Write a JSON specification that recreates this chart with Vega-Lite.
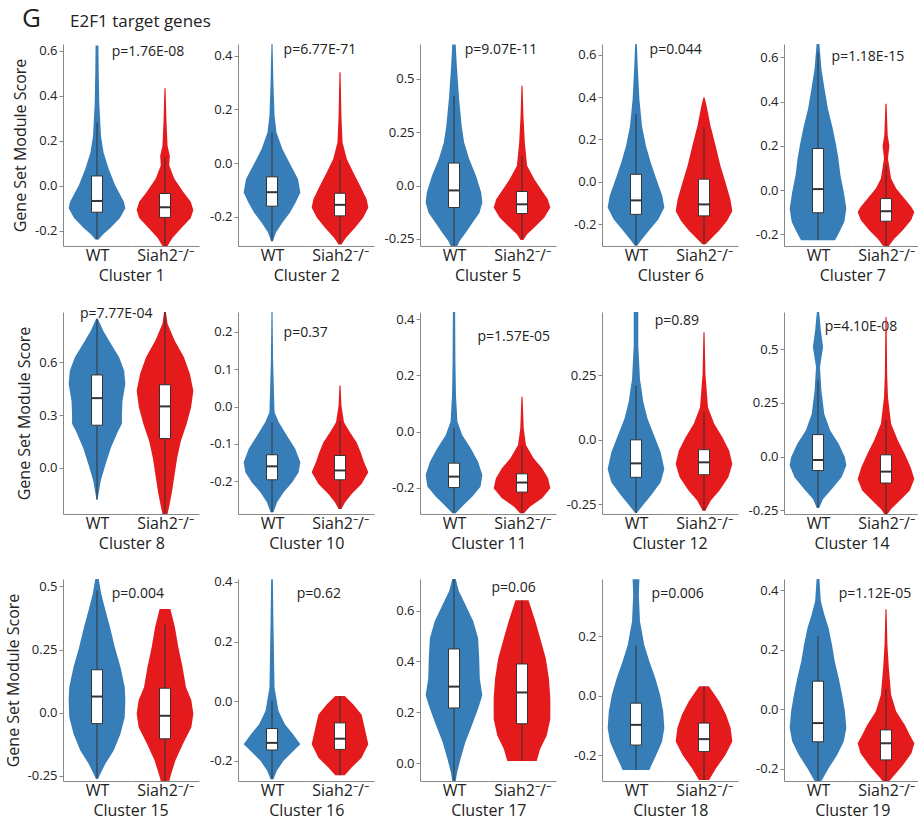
{
"$schema":"https://vega.github.io/schema/vega-lite/v6.json",
"title":{"text":"G","orient":"top","anchor":"start","frame":"bounds","fontSize":26,"fontWeight":"normal","font":"Open Sans","color":"#222","dx":17,"offset":-19},
"padding":{"left":5,"right":5,"top":6,"bottom":5},
"data":{"values":[
{"c":1,"g":"WT","v":0.623,"w":0.05},{"c":1,"g":"WT","v":0.514,"w":0.06},{"c":1,"g":"WT","v":0.368,"w":0.08},{"c":1,"g":"WT","v":0.222,"w":0.14},{"c":1,"g":"WT","v":0.149,"w":0.23},{"c":1,"g":"WT","v":0.076,"w":0.41},{"c":1,"g":"WT","v":0.003,"w":0.64},{"c":1,"g":"WT","v":-0.07,"w":0.95},{"c":1,"g":"WT","v":-0.099,"w":1},{"c":1,"g":"WT","v":-0.143,"w":0.81},{"c":1,"g":"WT","v":-0.187,"w":0.47},{"c":1,"g":"WT","v":-0.216,"w":0.21},{"c":1,"g":"WT","v":-0.238,"w":0.06},
{"c":1,"g":"Siah2","v":0.434,"w":0.02},{"c":1,"g":"Siah2","v":0.295,"w":0.05},{"c":1,"g":"Siah2","v":0.178,"w":0.09},{"c":1,"g":"Siah2","v":0.134,"w":0.17},{"c":1,"g":"Siah2","v":0.09,"w":0.15},{"c":1,"g":"Siah2","v":0.032,"w":0.33},{"c":1,"g":"Siah2","v":-0.026,"w":0.64},{"c":1,"g":"Siah2","v":-0.07,"w":0.91},{"c":1,"g":"Siah2","v":-0.107,"w":1},{"c":1,"g":"Siah2","v":-0.143,"w":0.91},{"c":1,"g":"Siah2","v":-0.187,"w":0.58},{"c":1,"g":"Siah2","v":-0.231,"w":0.26},{"c":1,"g":"Siah2","v":-0.267,"w":0.09},
{"c":2,"g":"WT","v":0.443,"w":0.02},{"c":2,"g":"WT","v":0.3,"w":0.05},{"c":2,"g":"WT","v":0.176,"w":0.09},{"c":2,"g":"WT","v":0.114,"w":0.16},{"c":2,"g":"WT","v":0.052,"w":0.37},{"c":2,"g":"WT","v":-0.01,"w":0.67},{"c":2,"g":"WT","v":-0.06,"w":0.92},{"c":2,"g":"WT","v":-0.109,"w":1},{"c":2,"g":"WT","v":-0.147,"w":0.83},{"c":2,"g":"WT","v":-0.184,"w":0.63},{"c":2,"g":"WT","v":-0.221,"w":0.37},{"c":2,"g":"WT","v":-0.258,"w":0.14},{"c":2,"g":"WT","v":-0.29,"w":0.03},
{"c":2,"g":"Siah2","v":0.338,"w":0.02},{"c":2,"g":"Siah2","v":0.176,"w":0.05},{"c":2,"g":"Siah2","v":0.077,"w":0.09},{"c":2,"g":"Siah2","v":0.015,"w":0.24},{"c":2,"g":"Siah2","v":-0.035,"w":0.47},{"c":2,"g":"Siah2","v":-0.084,"w":0.71},{"c":2,"g":"Siah2","v":-0.134,"w":0.94},{"c":2,"g":"Siah2","v":-0.165,"w":1},{"c":2,"g":"Siah2","v":-0.202,"w":0.82},{"c":2,"g":"Siah2","v":-0.24,"w":0.53},{"c":2,"g":"Siah2","v":-0.277,"w":0.21},{"c":2,"g":"Siah2","v":-0.302,"w":0.05},
{"c":5,"g":"WT","v":0.66,"w":0.06},{"c":5,"g":"WT","v":0.56,"w":0.1},{"c":5,"g":"WT","v":0.405,"w":0.18},{"c":5,"g":"WT","v":0.28,"w":0.27},{"c":5,"g":"WT","v":0.2,"w":0.36},{"c":5,"g":"WT","v":0.123,"w":0.54},{"c":5,"g":"WT","v":0.045,"w":0.78},{"c":5,"g":"WT","v":-0.033,"w":0.96},{"c":5,"g":"WT","v":-0.08,"w":1},{"c":5,"g":"WT","v":-0.127,"w":0.9},{"c":5,"g":"WT","v":-0.173,"w":0.66},{"c":5,"g":"WT","v":-0.22,"w":0.42},{"c":5,"g":"WT","v":-0.26,"w":0.2},{"c":5,"g":"WT","v":-0.283,"w":0.12},
{"c":5,"g":"Siah2","v":0.467,"w":0.02},{"c":5,"g":"Siah2","v":0.327,"w":0.05},{"c":5,"g":"Siah2","v":0.2,"w":0.1},{"c":5,"g":"Siah2","v":0.092,"w":0.18},{"c":5,"g":"Siah2","v":0.03,"w":0.43},{"c":5,"g":"Siah2","v":-0.017,"w":0.67},{"c":5,"g":"Siah2","v":-0.064,"w":0.91},{"c":5,"g":"Siah2","v":-0.103,"w":1},{"c":5,"g":"Siah2","v":-0.15,"w":0.79},{"c":5,"g":"Siah2","v":-0.19,"w":0.49},{"c":5,"g":"Siah2","v":-0.228,"w":0.18},{"c":5,"g":"Siah2","v":-0.255,"w":0.05},
{"c":6,"g":"WT","v":0.65,"w":0.03},{"c":6,"g":"WT","v":0.548,"w":0.06},{"c":6,"g":"WT","v":0.39,"w":0.12},{"c":6,"g":"WT","v":0.265,"w":0.21},{"c":6,"g":"WT","v":0.17,"w":0.35},{"c":6,"g":"WT","v":0.091,"w":0.52},{"c":6,"g":"WT","v":0.013,"w":0.72},{"c":6,"g":"WT","v":-0.066,"w":0.93},{"c":6,"g":"WT","v":-0.121,"w":1},{"c":6,"g":"WT","v":-0.176,"w":0.79},{"c":6,"g":"WT","v":-0.224,"w":0.49},{"c":6,"g":"WT","v":-0.27,"w":0.21},{"c":6,"g":"WT","v":-0.3,"w":0.05},
{"c":6,"g":"Siah2","v":0.398,"w":0.02},{"c":6,"g":"Siah2","v":0.36,"w":0.09},{"c":6,"g":"Siah2","v":0.265,"w":0.23},{"c":6,"g":"Siah2","v":0.17,"w":0.41},{"c":6,"g":"Siah2","v":0.076,"w":0.58},{"c":6,"g":"Siah2","v":-0.003,"w":0.76},{"c":6,"g":"Siah2","v":-0.082,"w":0.93},{"c":6,"g":"Siah2","v":-0.137,"w":1},{"c":6,"g":"Siah2","v":-0.184,"w":0.81},{"c":6,"g":"Siah2","v":-0.231,"w":0.52},{"c":6,"g":"Siah2","v":-0.27,"w":0.23},{"c":6,"g":"Siah2","v":-0.294,"w":0.06},
{"c":7,"g":"WT","v":0.66,"w":0.05},{"c":7,"g":"WT","v":0.548,"w":0.12},{"c":7,"g":"WT","v":0.458,"w":0.23},{"c":7,"g":"WT","v":0.368,"w":0.35},{"c":7,"g":"WT","v":0.278,"w":0.52},{"c":7,"g":"WT","v":0.203,"w":0.64},{"c":7,"g":"WT","v":0.143,"w":0.72},{"c":7,"g":"WT","v":0.068,"w":0.79},{"c":7,"g":"WT","v":-0.008,"w":0.91},{"c":7,"g":"WT","v":-0.083,"w":1},{"c":7,"g":"WT","v":-0.143,"w":0.93},{"c":7,"g":"WT","v":-0.188,"w":0.76},{"c":7,"g":"WT","v":-0.226,"w":0.6},
{"c":7,"g":"Siah2","v":0.39,"w":0.02},{"c":7,"g":"Siah2","v":0.248,"w":0.06},{"c":7,"g":"Siah2","v":0.2,"w":0.12},{"c":7,"g":"Siah2","v":0.143,"w":0.07},{"c":7,"g":"Siah2","v":0.053,"w":0.18},{"c":7,"g":"Siah2","v":0.008,"w":0.36},{"c":7,"g":"Siah2","v":-0.038,"w":0.65},{"c":7,"g":"Siah2","v":-0.075,"w":0.89},{"c":7,"g":"Siah2","v":-0.098,"w":1},{"c":7,"g":"Siah2","v":-0.135,"w":0.89},{"c":7,"g":"Siah2","v":-0.18,"w":0.6},{"c":7,"g":"Siah2","v":-0.218,"w":0.3},{"c":7,"g":"Siah2","v":-0.252,"w":0.1},
{"c":8,"g":"WT","v":0.848,"w":0.03},{"c":8,"g":"WT","v":0.78,"w":0.22},{"c":8,"g":"WT","v":0.705,"w":0.49},{"c":8,"g":"WT","v":0.629,"w":0.78},{"c":8,"g":"WT","v":0.552,"w":0.96},{"c":8,"g":"WT","v":0.476,"w":1},{"c":8,"g":"WT","v":0.381,"w":0.9},{"c":8,"g":"WT","v":0.3,"w":0.88},{"c":8,"g":"WT","v":0.25,"w":0.88},{"c":8,"g":"WT","v":0.21,"w":0.75},{"c":8,"g":"WT","v":0.114,"w":0.49},{"c":8,"g":"WT","v":0.019,"w":0.3},{"c":8,"g":"WT","v":-0.076,"w":0.13},{"c":8,"g":"WT","v":-0.152,"w":0.05},{"c":8,"g":"WT","v":-0.181,"w":0.02},
{"c":8,"g":"Siah2","v":0.886,"w":0.03},{"c":8,"g":"Siah2","v":0.819,"w":0.09},{"c":8,"g":"Siah2","v":0.724,"w":0.34},{"c":8,"g":"Siah2","v":0.629,"w":0.67},{"c":8,"g":"Siah2","v":0.533,"w":0.88},{"c":8,"g":"Siah2","v":0.438,"w":1},{"c":8,"g":"Siah2","v":0.343,"w":0.92},{"c":8,"g":"Siah2","v":0.248,"w":0.76},{"c":8,"g":"Siah2","v":0.152,"w":0.56},{"c":8,"g":"Siah2","v":0.057,"w":0.43},{"c":8,"g":"Siah2","v":-0.038,"w":0.34},{"c":8,"g":"Siah2","v":-0.133,"w":0.25},{"c":8,"g":"Siah2","v":-0.21,"w":0.16},{"c":8,"g":"Siah2","v":-0.263,"w":0.09},
{"c":10,"g":"WT","v":0.253,"w":0.02},{"c":10,"g":"WT","v":0.119,"w":0.04},{"c":10,"g":"WT","v":-0.015,"w":0.09},{"c":10,"g":"WT","v":-0.042,"w":0.24},{"c":10,"g":"WT","v":-0.078,"w":0.53},{"c":10,"g":"WT","v":-0.113,"w":0.82},{"c":10,"g":"WT","v":-0.149,"w":1},{"c":10,"g":"WT","v":-0.176,"w":0.94},{"c":10,"g":"WT","v":-0.203,"w":0.71},{"c":10,"g":"WT","v":-0.229,"w":0.41},{"c":10,"g":"WT","v":-0.256,"w":0.18},{"c":10,"g":"WT","v":-0.283,"w":0.05},
{"c":10,"g":"Siah2","v":0.056,"w":0.02},{"c":10,"g":"Siah2","v":0.003,"w":0.05},{"c":10,"g":"Siah2","v":-0.042,"w":0.14},{"c":10,"g":"Siah2","v":-0.069,"w":0.35},{"c":10,"g":"Siah2","v":-0.096,"w":0.59},{"c":10,"g":"Siah2","v":-0.122,"w":0.73},{"c":10,"g":"Siah2","v":-0.149,"w":0.85},{"c":10,"g":"Siah2","v":-0.176,"w":1},{"c":10,"g":"Siah2","v":-0.207,"w":0.76},{"c":10,"g":"Siah2","v":-0.234,"w":0.41},{"c":10,"g":"Siah2","v":-0.256,"w":0.18},{"c":10,"g":"Siah2","v":-0.274,"w":0.05},
{"c":11,"g":"WT","v":0.426,"w":0.04},{"c":11,"g":"WT","v":0.249,"w":0.05},{"c":11,"g":"WT","v":0.13,"w":0.07},{"c":11,"g":"WT","v":0.036,"w":0.12},{"c":11,"g":"WT","v":-0.012,"w":0.29},{"c":11,"g":"WT","v":-0.059,"w":0.59},{"c":11,"g":"WT","v":-0.107,"w":0.85},{"c":11,"g":"WT","v":-0.154,"w":1},{"c":11,"g":"WT","v":-0.195,"w":0.94},{"c":11,"g":"WT","v":-0.231,"w":0.65},{"c":11,"g":"WT","v":-0.26,"w":0.35},{"c":11,"g":"WT","v":-0.29,"w":0.06},
{"c":11,"g":"Siah2","v":0.124,"w":0.02},{"c":11,"g":"Siah2","v":0.012,"w":0.06},{"c":11,"g":"Siah2","v":-0.047,"w":0.14},{"c":11,"g":"Siah2","v":-0.095,"w":0.41},{"c":11,"g":"Siah2","v":-0.13,"w":0.71},{"c":11,"g":"Siah2","v":-0.166,"w":0.92},{"c":11,"g":"Siah2","v":-0.201,"w":1},{"c":11,"g":"Siah2","v":-0.237,"w":0.71},{"c":11,"g":"Siah2","v":-0.266,"w":0.29},{"c":11,"g":"Siah2","v":-0.29,"w":0.07},
{"c":12,"g":"WT","v":0.494,"w":0.08},{"c":12,"g":"WT","v":0.364,"w":0.08},{"c":12,"g":"WT","v":0.235,"w":0.14},{"c":12,"g":"WT","v":0.145,"w":0.26},{"c":12,"g":"WT","v":0.08,"w":0.41},{"c":12,"g":"WT","v":0.016,"w":0.64},{"c":12,"g":"WT","v":-0.049,"w":0.87},{"c":12,"g":"WT","v":-0.114,"w":1},{"c":12,"g":"WT","v":-0.165,"w":0.87},{"c":12,"g":"WT","v":-0.217,"w":0.52},{"c":12,"g":"WT","v":-0.256,"w":0.23},{"c":12,"g":"WT","v":-0.284,"w":0.03},
{"c":12,"g":"Siah2","v":0.416,"w":0.02},{"c":12,"g":"Siah2","v":0.255,"w":0.05},{"c":12,"g":"Siah2","v":0.125,"w":0.14},{"c":12,"g":"Siah2","v":0.061,"w":0.36},{"c":12,"g":"Siah2","v":0.009,"w":0.65},{"c":12,"g":"Siah2","v":-0.043,"w":0.89},{"c":12,"g":"Siah2","v":-0.094,"w":1},{"c":12,"g":"Siah2","v":-0.146,"w":0.86},{"c":12,"g":"Siah2","v":-0.198,"w":0.54},{"c":12,"g":"Siah2","v":-0.236,"w":0.24},{"c":12,"g":"Siah2","v":-0.275,"w":0.05},
{"c":14,"g":"WT","v":0.672,"w":0.04},{"c":14,"g":"WT","v":0.587,"w":0.1},{"c":14,"g":"WT","v":0.509,"w":0.18},{"c":14,"g":"WT","v":0.416,"w":0.07},{"c":14,"g":"WT","v":0.307,"w":0.12},{"c":14,"g":"WT","v":0.199,"w":0.22},{"c":14,"g":"WT","v":0.121,"w":0.43},{"c":14,"g":"WT","v":0.059,"w":0.73},{"c":14,"g":"WT","v":-0.003,"w":0.95},{"c":14,"g":"WT","v":-0.042,"w":1},{"c":14,"g":"WT","v":-0.096,"w":0.83},{"c":14,"g":"WT","v":-0.151,"w":0.49},{"c":14,"g":"WT","v":-0.197,"w":0.18},{"c":14,"g":"WT","v":-0.239,"w":0.04},
{"c":14,"g":"Siah2","v":0.649,"w":0.02},{"c":14,"g":"Siah2","v":0.385,"w":0.04},{"c":14,"g":"Siah2","v":0.276,"w":0.07},{"c":14,"g":"Siah2","v":0.152,"w":0.18},{"c":14,"g":"Siah2","v":0.075,"w":0.42},{"c":14,"g":"Siah2","v":0.012,"w":0.66},{"c":14,"g":"Siah2","v":-0.05,"w":0.87},{"c":14,"g":"Siah2","v":-0.104,"w":1},{"c":14,"g":"Siah2","v":-0.158,"w":0.84},{"c":14,"g":"Siah2","v":-0.205,"w":0.48},{"c":14,"g":"Siah2","v":-0.244,"w":0.18},{"c":14,"g":"Siah2","v":-0.267,"w":0.06},
{"c":15,"g":"WT","v":0.529,"w":0.06},{"c":15,"g":"WT","v":0.47,"w":0.15},{"c":15,"g":"WT","v":0.404,"w":0.3},{"c":15,"g":"WT","v":0.338,"w":0.46},{"c":15,"g":"WT","v":0.259,"w":0.63},{"c":15,"g":"WT","v":0.18,"w":0.83},{"c":15,"g":"WT","v":0.101,"w":0.98},{"c":15,"g":"WT","v":0.049,"w":1},{"c":15,"g":"WT","v":-0.017,"w":0.98},{"c":15,"g":"WT","v":-0.083,"w":0.83},{"c":15,"g":"WT","v":-0.149,"w":0.59},{"c":15,"g":"WT","v":-0.201,"w":0.3},{"c":15,"g":"WT","v":-0.241,"w":0.12},{"c":15,"g":"WT","v":-0.261,"w":0.04},
{"c":15,"g":"Siah2","v":0.41,"w":0.19},{"c":15,"g":"Siah2","v":0.338,"w":0.35},{"c":15,"g":"Siah2","v":0.259,"w":0.47},{"c":15,"g":"Siah2","v":0.18,"w":0.62},{"c":15,"g":"Siah2","v":0.101,"w":0.74},{"c":15,"g":"Siah2","v":0.049,"w":0.93},{"c":15,"g":"Siah2","v":-0.004,"w":1},{"c":15,"g":"Siah2","v":-0.057,"w":0.93},{"c":15,"g":"Siah2","v":-0.122,"w":0.64},{"c":15,"g":"Siah2","v":-0.188,"w":0.37},{"c":15,"g":"Siah2","v":-0.241,"w":0.22},{"c":15,"g":"Siah2","v":-0.27,"w":0.15},
{"c":16,"g":"WT","v":0.409,"w":0.03},{"c":16,"g":"WT","v":0.268,"w":0.05},{"c":16,"g":"WT","v":0.156,"w":0.07},{"c":16,"g":"WT","v":0.045,"w":0.09},{"c":16,"g":"WT","v":-0.033,"w":0.23},{"c":16,"g":"WT","v":-0.078,"w":0.46},{"c":16,"g":"WT","v":-0.112,"w":0.75},{"c":16,"g":"WT","v":-0.145,"w":1},{"c":16,"g":"WT","v":-0.173,"w":0.69},{"c":16,"g":"WT","v":-0.201,"w":0.4},{"c":16,"g":"WT","v":-0.234,"w":0.17},{"c":16,"g":"WT","v":-0.262,"w":0.05},
{"c":16,"g":"Siah2","v":0.017,"w":0.17},{"c":16,"g":"Siah2","v":-0.011,"w":0.47},{"c":16,"g":"Siah2","v":-0.045,"w":0.76},{"c":16,"g":"Siah2","v":-0.089,"w":0.87},{"c":16,"g":"Siah2","v":-0.145,"w":1},{"c":16,"g":"Siah2","v":-0.19,"w":0.76},{"c":16,"g":"Siah2","v":-0.223,"w":0.41},{"c":16,"g":"Siah2","v":-0.249,"w":0.17},
{"c":17,"g":"WT","v":0.724,"w":0.06},{"c":17,"g":"WT","v":0.677,"w":0.17},{"c":17,"g":"WT","v":0.624,"w":0.4},{"c":17,"g":"WT","v":0.558,"w":0.68},{"c":17,"g":"WT","v":0.492,"w":0.85},{"c":17,"g":"WT","v":0.412,"w":0.89},{"c":17,"g":"WT","v":0.333,"w":0.91},{"c":17,"g":"WT","v":0.267,"w":1},{"c":17,"g":"WT","v":0.214,"w":0.85},{"c":17,"g":"WT","v":0.148,"w":0.63},{"c":17,"g":"WT","v":0.082,"w":0.4},{"c":17,"g":"WT","v":0.016,"w":0.23},{"c":17,"g":"WT","v":-0.037,"w":0.11},{"c":17,"g":"WT","v":-0.07,"w":0.06},
{"c":17,"g":"Siah2","v":0.64,"w":0.23},{"c":17,"g":"Siah2","v":0.558,"w":0.47},{"c":17,"g":"Siah2","v":0.492,"w":0.64},{"c":17,"g":"Siah2","v":0.412,"w":0.84},{"c":17,"g":"Siah2","v":0.333,"w":0.95},{"c":17,"g":"Siah2","v":0.254,"w":1},{"c":17,"g":"Siah2","v":0.174,"w":1},{"c":17,"g":"Siah2","v":0.108,"w":0.87},{"c":17,"g":"Siah2","v":0.056,"w":0.64},{"c":17,"g":"Siah2","v":0.009,"w":0.52},
{"c":18,"g":"WT","v":0.392,"w":0.12},{"c":18,"g":"WT","v":0.341,"w":0.1},{"c":18,"g":"WT","v":0.251,"w":0.14},{"c":18,"g":"WT","v":0.172,"w":0.29},{"c":18,"g":"WT","v":0.116,"w":0.47},{"c":18,"g":"WT","v":0.06,"w":0.68},{"c":18,"g":"WT","v":0.003,"w":0.85},{"c":18,"g":"WT","v":-0.053,"w":0.96},{"c":18,"g":"WT","v":-0.109,"w":1},{"c":18,"g":"WT","v":-0.154,"w":0.92},{"c":18,"g":"WT","v":-0.2,"w":0.71},{"c":18,"g":"WT","v":-0.25,"w":0.47},
{"c":18,"g":"Siah2","v":0.032,"w":0.17},{"c":18,"g":"Siah2","v":-0.019,"w":0.54},{"c":18,"g":"Siah2","v":-0.064,"w":0.78},{"c":18,"g":"Siah2","v":-0.109,"w":0.94},{"c":18,"g":"Siah2","v":-0.154,"w":1},{"c":18,"g":"Siah2","v":-0.2,"w":0.75},{"c":18,"g":"Siah2","v":-0.245,"w":0.42},{"c":18,"g":"Siah2","v":-0.284,"w":0.18},
{"c":19,"g":"WT","v":0.438,"w":0.05},{"c":19,"g":"WT","v":0.364,"w":0.1},{"c":19,"g":"WT","v":0.319,"w":0.22},{"c":19,"g":"WT","v":0.274,"w":0.37},{"c":19,"g":"WT","v":0.218,"w":0.49},{"c":19,"g":"WT","v":0.161,"w":0.59},{"c":19,"g":"WT","v":0.105,"w":0.73},{"c":19,"g":"WT","v":0.048,"w":0.85},{"c":19,"g":"WT","v":-0.008,"w":0.95},{"c":19,"g":"WT","v":-0.064,"w":1},{"c":19,"g":"WT","v":-0.109,"w":0.91},{"c":19,"g":"WT","v":-0.155,"w":0.67},{"c":19,"g":"WT","v":-0.2,"w":0.37},{"c":19,"g":"WT","v":-0.242,"w":0.12},
{"c":19,"g":"Siah2","v":0.336,"w":0.02},{"c":19,"g":"Siah2","v":0.218,"w":0.05},{"c":19,"g":"Siah2","v":0.139,"w":0.1},{"c":19,"g":"Siah2","v":0.048,"w":0.18},{"c":19,"g":"Siah2","v":-0.008,"w":0.36},{"c":19,"g":"Siah2","v":-0.053,"w":0.66},{"c":19,"g":"Siah2","v":-0.087,"w":0.84},{"c":19,"g":"Siah2","v":-0.115,"w":1},{"c":19,"g":"Siah2","v":-0.149,"w":0.9},{"c":19,"g":"Siah2","v":-0.188,"w":0.6},{"c":19,"g":"Siah2","v":-0.222,"w":0.3},{"c":19,"g":"Siah2","v":-0.242,"w":0.12},
{"c":1,"g":"WT","lo":-0.238,"q1":-0.117,"md":-0.067,"q3":0.044,"hi":0.28,"p":"p=1.76E-08"},{"c":1,"g":"Siah2","lo":-0.267,"q1":-0.14,"md":-0.095,"q3":-0.034,"hi":0.127},
{"c":2,"g":"WT","lo":-0.29,"q1":-0.16,"md":-0.108,"q3":-0.051,"hi":0.114,"p":"p=6.77E-71"},{"c":2,"g":"Siah2","lo":-0.3,"q1":-0.196,"md":-0.155,"q3":-0.112,"hi":0.009},
{"c":5,"g":"WT","lo":-0.283,"q1":-0.103,"md":-0.023,"q3":0.105,"hi":0.42,"p":"p=9.07E-11"},{"c":5,"g":"Siah2","lo":-0.25,"q1":-0.131,"md":-0.088,"q3":-0.028,"hi":0.139},
{"c":6,"g":"WT","lo":-0.3,"q1":-0.153,"md":-0.087,"q3":0.036,"hi":0.32,"p":"p=0.044"},{"c":6,"g":"Siah2","lo":-0.294,"q1":-0.16,"md":-0.106,"q3":0.013,"hi":0.257},
{"c":7,"g":"WT","lo":-0.225,"q1":-0.102,"md":0.005,"q3":0.188,"hi":0.62,"p":"p=1.18E-15"},{"c":7,"g":"Siah2","lo":-0.252,"q1":-0.14,"md":-0.095,"q3":-0.038,"hi":0.113},
{"c":8,"g":"WT","lo":-0.181,"q1":0.242,"md":0.396,"q3":0.528,"hi":0.848,"p":"p=7.77E-04"},{"c":8,"g":"Siah2","lo":-0.263,"q1":0.166,"md":0.349,"q3":0.472,"hi":0.886},
{"c":10,"g":"WT","lo":-0.283,"q1":-0.196,"md":-0.16,"q3":-0.129,"hi":-0.042,"p":"p=0.37"},{"c":10,"g":"Siah2","lo":-0.274,"q1":-0.196,"md":-0.171,"q3":-0.131,"hi":-0.04},
{"c":11,"g":"WT","lo":-0.29,"q1":-0.199,"md":-0.16,"q3":-0.112,"hi":0.014,"p":"p=1.57E-05"},{"c":11,"g":"Siah2","lo":-0.29,"q1":-0.215,"md":-0.181,"q3":-0.15,"hi":-0.051},
{"c":12,"g":"WT","lo":-0.284,"q1":-0.146,"md":-0.092,"q3":-0.001,"hi":0.209,"p":"p=0.89"},{"c":12,"g":"Siah2","lo":-0.275,"q1":-0.136,"md":-0.088,"q3":-0.039,"hi":0.106},
{"c":14,"g":"WT","lo":-0.239,"q1":-0.065,"md":-0.016,"q3":0.102,"hi":0.354,"p":"p=4.10E-08"},{"c":14,"g":"Siah2","lo":-0.267,"q1":-0.123,"md":-0.07,"q3":0.008,"hi":0.17},
{"c":15,"g":"WT","lo":-0.261,"q1":-0.043,"md":0.064,"q3":0.17,"hi":0.483,"p":"p=0.004"},{"c":15,"g":"Siah2","lo":-0.27,"q1":-0.103,"md":-0.012,"q3":0.097,"hi":0.351},
{"c":16,"g":"WT","lo":-0.262,"q1":-0.164,"md":-0.14,"q3":-0.092,"hi":0.0,"p":"p=0.62"},{"c":16,"g":"Siah2","lo":-0.249,"q1":-0.162,"md":-0.126,"q3":-0.073,"hi":0.017},
{"c":17,"g":"WT","lo":-0.07,"q1":0.217,"md":0.301,"q3":0.449,"hi":0.724,"p":"p=0.06"},{"c":17,"g":"Siah2","lo":0.009,"q1":0.155,"md":0.278,"q3":0.39,"hi":0.64},
{"c":18,"g":"WT","lo":-0.25,"q1":-0.166,"md":-0.098,"q3":-0.025,"hi":0.17,"p":"p=0.006"},{"c":18,"g":"Siah2","lo":-0.284,"q1":-0.188,"md":-0.146,"q3":-0.092,"hi":0.032},
{"c":19,"g":"WT","lo":-0.242,"q1":-0.11,"md":-0.047,"q3":0.094,"hi":0.246,"p":"p=1.12E-05"},{"c":19,"g":"Siah2","lo":-0.242,"q1":-0.171,"md":-0.115,"q3":-0.07,"hi":0.069}
]},
"vconcat":[{
"title":{"text":"E2F1 target genes","orient":"top","anchor":"start","frame":"bounds","fontSize":17,"fontWeight":"normal","font":"Open Sans","color":"#222","dx":65,"offset":12},
"columns":5,
"align":"each",
"spacing":{"row":23,"column":10},
"concat":[
{"title":{"text":"Cluster 1","dx":26},"bounds":"flush","spacing":0,"hconcat":[
{"transform":[{"filter":"datum.c==1 && datum.g=='WT'"}],"width":68,"height":202,"resolve":{"scale":{"x":"independent"}},"layer":[
{"transform":[{"filter":"datum.w!=null"}],"mark":{"type":"area","orient":"horizontal","color":"#377eb8"},"encoding":{"y":{"field":"v","type":"quantitative","scale":{"domain":[-0.267,0.63],"nice":false},"axis":{"title":"Gene Set Module Score","values":[-0.2,0,0.2,0.4,0.6],"labelExpr":"datum.value == 0 ? '0.0' : replace(format(datum.value, '.2~f'), '\u2212', '-')"}},"x":{"field":"w","type":"quantitative","stack":null,"scale":{"domain":[-1.2,1.2]},"axis":{"title":"WT"}}}},
{"transform":[{"filter":"datum.w!=null"}],"mark":{"type":"area","orient":"horizontal","color":"#377eb8"},"encoding":{"y":{"field":"v","type":"quantitative"},"x":{"field":"w","type":"quantitative","stack":null,"scale":{"domain":[-1.2,1.2],"reverse":true},"axis":null}}},
{"transform":[{"filter":"datum.q1!=null"}],"mark":{"type":"rule","color":"#333"},"encoding":{"x":{"datum":0,"type":"quantitative","scale":{"domain":[-1.2,1.2]},"axis":null},"y":{"field":"lo","type":"quantitative"},"y2":{"field":"hi"}}},
{"transform":[{"filter":"datum.q1!=null"}],"mark":{"type":"bar","width":11,"fill":"white","stroke":"#333","strokeWidth":1,"opacity":1},"encoding":{"x":{"datum":0,"type":"quantitative","scale":{"domain":[-1.2,1.2]},"axis":null},"y":{"field":"q1","type":"quantitative"},"y2":{"field":"q3"}}},
{"transform":[{"filter":"datum.q1!=null"}],"mark":{"type":"rule","color":"#333","strokeWidth":2},"encoding":{"x":{"datum":-0.19,"type":"quantitative","scale":{"domain":[-1.2,1.2]},"axis":null},"x2":{"datum":0.19},"y":{"field":"md","type":"quantitative"}}},
{"transform":[{"filter":"datum.p!=null"}],"mark":{"type":"text","align":"left","baseline":"middle","fontSize":14,"color":"#222"},"encoding":{"x":{"datum":0.52,"type":"quantitative","scale":{"domain":[-1.2,1.2]},"axis":null},"y":{"datum":0.596,"type":"quantitative"},"text":{"field":"p"}}}]},
{"transform":[{"filter":"datum.c==1 && datum.g=='Siah2'"}],"width":68,"height":202,"resolve":{"scale":{"x":"independent"}},"layer":[
{"transform":[{"filter":"datum.w!=null"}],"mark":{"type":"area","orient":"horizontal","color":"#e41a1c"},"encoding":{"y":{"field":"v","type":"quantitative","scale":{"domain":[-0.267,0.63],"nice":false},"axis":null},"x":{"field":"w","type":"quantitative","stack":null,"scale":{"domain":[-1.2,1.2]},"axis":{"title":"Siah2\u207b/\u207b"}}}},
{"transform":[{"filter":"datum.w!=null"}],"mark":{"type":"area","orient":"horizontal","color":"#e41a1c"},"encoding":{"y":{"field":"v","type":"quantitative"},"x":{"field":"w","type":"quantitative","stack":null,"scale":{"domain":[-1.2,1.2],"reverse":true},"axis":null}}},
{"transform":[{"filter":"datum.q1!=null"}],"mark":{"type":"rule","color":"#333"},"encoding":{"x":{"datum":0,"type":"quantitative","scale":{"domain":[-1.2,1.2]},"axis":null},"y":{"field":"lo","type":"quantitative"},"y2":{"field":"hi"}}},
{"transform":[{"filter":"datum.q1!=null"}],"mark":{"type":"bar","width":11,"fill":"white","stroke":"#333","strokeWidth":1,"opacity":1},"encoding":{"x":{"datum":0,"type":"quantitative","scale":{"domain":[-1.2,1.2]},"axis":null},"y":{"field":"q1","type":"quantitative"},"y2":{"field":"q3"}}},
{"transform":[{"filter":"datum.q1!=null"}],"mark":{"type":"rule","color":"#333","strokeWidth":2},"encoding":{"x":{"datum":-0.19,"type":"quantitative","scale":{"domain":[-1.2,1.2]},"axis":null},"x2":{"datum":0.19},"y":{"field":"md","type":"quantitative"}}}]}
]},
{"title":{"text":"Cluster 2","dx":15},"bounds":"flush","spacing":0,"hconcat":[
{"transform":[{"filter":"datum.c==2 && datum.g=='WT'"}],"width":68,"height":202,"resolve":{"scale":{"x":"independent"}},"layer":[
{"transform":[{"filter":"datum.w!=null"}],"mark":{"type":"area","orient":"horizontal","color":"#377eb8"},"encoding":{"y":{"field":"v","type":"quantitative","scale":{"domain":[-0.308,0.443],"nice":false},"axis":{"title":null,"values":[-0.2,0,0.2,0.4],"labelExpr":"datum.value == 0 ? '0.0' : replace(format(datum.value, '.2~f'), '\u2212', '-')"}},"x":{"field":"w","type":"quantitative","stack":null,"scale":{"domain":[-1.2,1.2]},"axis":{"title":"WT"}}}},
{"transform":[{"filter":"datum.w!=null"}],"mark":{"type":"area","orient":"horizontal","color":"#377eb8"},"encoding":{"y":{"field":"v","type":"quantitative"},"x":{"field":"w","type":"quantitative","stack":null,"scale":{"domain":[-1.2,1.2],"reverse":true},"axis":null}}},
{"transform":[{"filter":"datum.q1!=null"}],"mark":{"type":"rule","color":"#333"},"encoding":{"x":{"datum":0,"type":"quantitative","scale":{"domain":[-1.2,1.2]},"axis":null},"y":{"field":"lo","type":"quantitative"},"y2":{"field":"hi"}}},
{"transform":[{"filter":"datum.q1!=null"}],"mark":{"type":"bar","width":11,"fill":"white","stroke":"#333","strokeWidth":1,"opacity":1},"encoding":{"x":{"datum":0,"type":"quantitative","scale":{"domain":[-1.2,1.2]},"axis":null},"y":{"field":"q1","type":"quantitative"},"y2":{"field":"q3"}}},
{"transform":[{"filter":"datum.q1!=null"}],"mark":{"type":"rule","color":"#333","strokeWidth":2},"encoding":{"x":{"datum":-0.19,"type":"quantitative","scale":{"domain":[-1.2,1.2]},"axis":null},"x2":{"datum":0.19},"y":{"field":"md","type":"quantitative"}}},
{"transform":[{"filter":"datum.p!=null"}],"mark":{"type":"text","align":"left","baseline":"middle","fontSize":14,"color":"#222"},"encoding":{"x":{"datum":0.41,"type":"quantitative","scale":{"domain":[-1.2,1.2]},"axis":null},"y":{"datum":0.42,"type":"quantitative"},"text":{"field":"p"}}}]},
{"transform":[{"filter":"datum.c==2 && datum.g=='Siah2'"}],"width":68,"height":202,"resolve":{"scale":{"x":"independent"}},"layer":[
{"transform":[{"filter":"datum.w!=null"}],"mark":{"type":"area","orient":"horizontal","color":"#e41a1c"},"encoding":{"y":{"field":"v","type":"quantitative","scale":{"domain":[-0.308,0.443],"nice":false},"axis":null},"x":{"field":"w","type":"quantitative","stack":null,"scale":{"domain":[-1.2,1.2]},"axis":{"title":"Siah2\u207b/\u207b"}}}},
{"transform":[{"filter":"datum.w!=null"}],"mark":{"type":"area","orient":"horizontal","color":"#e41a1c"},"encoding":{"y":{"field":"v","type":"quantitative"},"x":{"field":"w","type":"quantitative","stack":null,"scale":{"domain":[-1.2,1.2],"reverse":true},"axis":null}}},
{"transform":[{"filter":"datum.q1!=null"}],"mark":{"type":"rule","color":"#333"},"encoding":{"x":{"datum":0,"type":"quantitative","scale":{"domain":[-1.2,1.2]},"axis":null},"y":{"field":"lo","type":"quantitative"},"y2":{"field":"hi"}}},
{"transform":[{"filter":"datum.q1!=null"}],"mark":{"type":"bar","width":11,"fill":"white","stroke":"#333","strokeWidth":1,"opacity":1},"encoding":{"x":{"datum":0,"type":"quantitative","scale":{"domain":[-1.2,1.2]},"axis":null},"y":{"field":"q1","type":"quantitative"},"y2":{"field":"q3"}}},
{"transform":[{"filter":"datum.q1!=null"}],"mark":{"type":"rule","color":"#333","strokeWidth":2},"encoding":{"x":{"datum":-0.19,"type":"quantitative","scale":{"domain":[-1.2,1.2]},"axis":null},"x2":{"datum":0.19},"y":{"field":"md","type":"quantitative"}}}]}
]},
{"title":{"text":"Cluster 5","dx":18},"bounds":"flush","spacing":0,"hconcat":[
{"transform":[{"filter":"datum.c==5 && datum.g=='WT'"}],"width":68,"height":202,"resolve":{"scale":{"x":"independent"}},"layer":[
{"transform":[{"filter":"datum.w!=null"}],"mark":{"type":"area","orient":"horizontal","color":"#377eb8"},"encoding":{"y":{"field":"v","type":"quantitative","scale":{"domain":[-0.283,0.662],"nice":false},"axis":{"title":null,"values":[-0.25,0,0.25,0.5],"labelExpr":"datum.value == 0 ? '0.0' : replace(format(datum.value, '.2~f'), '\u2212', '-')"}},"x":{"field":"w","type":"quantitative","stack":null,"scale":{"domain":[-1.2,1.2]},"axis":{"title":"WT"}}}},
{"transform":[{"filter":"datum.w!=null"}],"mark":{"type":"area","orient":"horizontal","color":"#377eb8"},"encoding":{"y":{"field":"v","type":"quantitative"},"x":{"field":"w","type":"quantitative","stack":null,"scale":{"domain":[-1.2,1.2],"reverse":true},"axis":null}}},
{"transform":[{"filter":"datum.q1!=null"}],"mark":{"type":"rule","color":"#333"},"encoding":{"x":{"datum":0,"type":"quantitative","scale":{"domain":[-1.2,1.2]},"axis":null},"y":{"field":"lo","type":"quantitative"},"y2":{"field":"hi"}}},
{"transform":[{"filter":"datum.q1!=null"}],"mark":{"type":"bar","width":11,"fill":"white","stroke":"#333","strokeWidth":1,"opacity":1},"encoding":{"x":{"datum":0,"type":"quantitative","scale":{"domain":[-1.2,1.2]},"axis":null},"y":{"field":"q1","type":"quantitative"},"y2":{"field":"q3"}}},
{"transform":[{"filter":"datum.q1!=null"}],"mark":{"type":"rule","color":"#333","strokeWidth":2},"encoding":{"x":{"datum":-0.19,"type":"quantitative","scale":{"domain":[-1.2,1.2]},"axis":null},"x2":{"datum":0.19},"y":{"field":"md","type":"quantitative"}}},
{"transform":[{"filter":"datum.p!=null"}],"mark":{"type":"text","align":"left","baseline":"middle","fontSize":14,"color":"#222"},"encoding":{"x":{"datum":0.38,"type":"quantitative","scale":{"domain":[-1.2,1.2]},"axis":null},"y":{"datum":0.633,"type":"quantitative"},"text":{"field":"p"}}}]},
{"transform":[{"filter":"datum.c==5 && datum.g=='Siah2'"}],"width":68,"height":202,"resolve":{"scale":{"x":"independent"}},"layer":[
{"transform":[{"filter":"datum.w!=null"}],"mark":{"type":"area","orient":"horizontal","color":"#e41a1c"},"encoding":{"y":{"field":"v","type":"quantitative","scale":{"domain":[-0.283,0.662],"nice":false},"axis":null},"x":{"field":"w","type":"quantitative","stack":null,"scale":{"domain":[-1.2,1.2]},"axis":{"title":"Siah2\u207b/\u207b"}}}},
{"transform":[{"filter":"datum.w!=null"}],"mark":{"type":"area","orient":"horizontal","color":"#e41a1c"},"encoding":{"y":{"field":"v","type":"quantitative"},"x":{"field":"w","type":"quantitative","stack":null,"scale":{"domain":[-1.2,1.2],"reverse":true},"axis":null}}},
{"transform":[{"filter":"datum.q1!=null"}],"mark":{"type":"rule","color":"#333"},"encoding":{"x":{"datum":0,"type":"quantitative","scale":{"domain":[-1.2,1.2]},"axis":null},"y":{"field":"lo","type":"quantitative"},"y2":{"field":"hi"}}},
{"transform":[{"filter":"datum.q1!=null"}],"mark":{"type":"bar","width":11,"fill":"white","stroke":"#333","strokeWidth":1,"opacity":1},"encoding":{"x":{"datum":0,"type":"quantitative","scale":{"domain":[-1.2,1.2]},"axis":null},"y":{"field":"q1","type":"quantitative"},"y2":{"field":"q3"}}},
{"transform":[{"filter":"datum.q1!=null"}],"mark":{"type":"rule","color":"#333","strokeWidth":2},"encoding":{"x":{"datum":-0.19,"type":"quantitative","scale":{"domain":[-1.2,1.2]},"axis":null},"x2":{"datum":0.19},"y":{"field":"md","type":"quantitative"}}}]}
]},
{"title":{"text":"Cluster 6","dx":15},"bounds":"flush","spacing":0,"hconcat":[
{"transform":[{"filter":"datum.c==6 && datum.g=='WT'"}],"width":68,"height":202,"resolve":{"scale":{"x":"independent"}},"layer":[
{"transform":[{"filter":"datum.w!=null"}],"mark":{"type":"area","orient":"horizontal","color":"#377eb8"},"encoding":{"y":{"field":"v","type":"quantitative","scale":{"domain":[-0.302,0.65],"nice":false},"axis":{"title":null,"values":[-0.2,0,0.2,0.4,0.6],"labelExpr":"datum.value == 0 ? '0.0' : replace(format(datum.value, '.2~f'), '\u2212', '-')"}},"x":{"field":"w","type":"quantitative","stack":null,"scale":{"domain":[-1.2,1.2]},"axis":{"title":"WT"}}}},
{"transform":[{"filter":"datum.w!=null"}],"mark":{"type":"area","orient":"horizontal","color":"#377eb8"},"encoding":{"y":{"field":"v","type":"quantitative"},"x":{"field":"w","type":"quantitative","stack":null,"scale":{"domain":[-1.2,1.2],"reverse":true},"axis":null}}},
{"transform":[{"filter":"datum.q1!=null"}],"mark":{"type":"rule","color":"#333"},"encoding":{"x":{"datum":0,"type":"quantitative","scale":{"domain":[-1.2,1.2]},"axis":null},"y":{"field":"lo","type":"quantitative"},"y2":{"field":"hi"}}},
{"transform":[{"filter":"datum.q1!=null"}],"mark":{"type":"bar","width":11,"fill":"white","stroke":"#333","strokeWidth":1,"opacity":1},"encoding":{"x":{"datum":0,"type":"quantitative","scale":{"domain":[-1.2,1.2]},"axis":null},"y":{"field":"q1","type":"quantitative"},"y2":{"field":"q3"}}},
{"transform":[{"filter":"datum.q1!=null"}],"mark":{"type":"rule","color":"#333","strokeWidth":2},"encoding":{"x":{"datum":-0.19,"type":"quantitative","scale":{"domain":[-1.2,1.2]},"axis":null},"x2":{"datum":0.19},"y":{"field":"md","type":"quantitative"}}},
{"transform":[{"filter":"datum.p!=null"}],"mark":{"type":"text","align":"left","baseline":"middle","fontSize":14,"color":"#222"},"encoding":{"x":{"datum":0.48,"type":"quantitative","scale":{"domain":[-1.2,1.2]},"axis":null},"y":{"datum":0.62,"type":"quantitative"},"text":{"field":"p"}}}]},
{"transform":[{"filter":"datum.c==6 && datum.g=='Siah2'"}],"width":68,"height":202,"resolve":{"scale":{"x":"independent"}},"layer":[
{"transform":[{"filter":"datum.w!=null"}],"mark":{"type":"area","orient":"horizontal","color":"#e41a1c"},"encoding":{"y":{"field":"v","type":"quantitative","scale":{"domain":[-0.302,0.65],"nice":false},"axis":null},"x":{"field":"w","type":"quantitative","stack":null,"scale":{"domain":[-1.2,1.2]},"axis":{"title":"Siah2\u207b/\u207b"}}}},
{"transform":[{"filter":"datum.w!=null"}],"mark":{"type":"area","orient":"horizontal","color":"#e41a1c"},"encoding":{"y":{"field":"v","type":"quantitative"},"x":{"field":"w","type":"quantitative","stack":null,"scale":{"domain":[-1.2,1.2],"reverse":true},"axis":null}}},
{"transform":[{"filter":"datum.q1!=null"}],"mark":{"type":"rule","color":"#333"},"encoding":{"x":{"datum":0,"type":"quantitative","scale":{"domain":[-1.2,1.2]},"axis":null},"y":{"field":"lo","type":"quantitative"},"y2":{"field":"hi"}}},
{"transform":[{"filter":"datum.q1!=null"}],"mark":{"type":"bar","width":11,"fill":"white","stroke":"#333","strokeWidth":1,"opacity":1},"encoding":{"x":{"datum":0,"type":"quantitative","scale":{"domain":[-1.2,1.2]},"axis":null},"y":{"field":"q1","type":"quantitative"},"y2":{"field":"q3"}}},
{"transform":[{"filter":"datum.q1!=null"}],"mark":{"type":"rule","color":"#333","strokeWidth":2},"encoding":{"x":{"datum":-0.19,"type":"quantitative","scale":{"domain":[-1.2,1.2]},"axis":null},"x2":{"datum":0.19},"y":{"field":"md","type":"quantitative"}}}]}
]},
{"title":{"text":"Cluster 7","dx":15},"bounds":"flush","spacing":0,"hconcat":[
{"transform":[{"filter":"datum.c==7 && datum.g=='WT'"}],"width":68,"height":202,"resolve":{"scale":{"x":"independent"}},"layer":[
{"transform":[{"filter":"datum.w!=null"}],"mark":{"type":"area","orient":"horizontal","color":"#377eb8"},"encoding":{"y":{"field":"v","type":"quantitative","scale":{"domain":[-0.252,0.66],"nice":false},"axis":{"title":null,"values":[-0.2,0,0.2,0.4,0.6],"labelExpr":"datum.value == 0 ? '0.0' : replace(format(datum.value, '.2~f'), '\u2212', '-')"}},"x":{"field":"w","type":"quantitative","stack":null,"scale":{"domain":[-1.2,1.2]},"axis":{"title":"WT"}}}},
{"transform":[{"filter":"datum.w!=null"}],"mark":{"type":"area","orient":"horizontal","color":"#377eb8"},"encoding":{"y":{"field":"v","type":"quantitative"},"x":{"field":"w","type":"quantitative","stack":null,"scale":{"domain":[-1.2,1.2],"reverse":true},"axis":null}}},
{"transform":[{"filter":"datum.q1!=null"}],"mark":{"type":"rule","color":"#333"},"encoding":{"x":{"datum":0,"type":"quantitative","scale":{"domain":[-1.2,1.2]},"axis":null},"y":{"field":"lo","type":"quantitative"},"y2":{"field":"hi"}}},
{"transform":[{"filter":"datum.q1!=null"}],"mark":{"type":"bar","width":11,"fill":"white","stroke":"#333","strokeWidth":1,"opacity":1},"encoding":{"x":{"datum":0,"type":"quantitative","scale":{"domain":[-1.2,1.2]},"axis":null},"y":{"field":"q1","type":"quantitative"},"y2":{"field":"q3"}}},
{"transform":[{"filter":"datum.q1!=null"}],"mark":{"type":"rule","color":"#333","strokeWidth":2},"encoding":{"x":{"datum":-0.19,"type":"quantitative","scale":{"domain":[-1.2,1.2]},"axis":null},"x2":{"datum":0.19},"y":{"field":"md","type":"quantitative"}}},
{"transform":[{"filter":"datum.p!=null"}],"mark":{"type":"text","align":"left","baseline":"middle","fontSize":14,"color":"#222"},"encoding":{"x":{"datum":0.48,"type":"quantitative","scale":{"domain":[-1.2,1.2]},"axis":null},"y":{"datum":0.6,"type":"quantitative"},"text":{"field":"p"}}}]},
{"transform":[{"filter":"datum.c==7 && datum.g=='Siah2'"}],"width":68,"height":202,"resolve":{"scale":{"x":"independent"}},"layer":[
{"transform":[{"filter":"datum.w!=null"}],"mark":{"type":"area","orient":"horizontal","color":"#e41a1c"},"encoding":{"y":{"field":"v","type":"quantitative","scale":{"domain":[-0.252,0.66],"nice":false},"axis":null},"x":{"field":"w","type":"quantitative","stack":null,"scale":{"domain":[-1.2,1.2]},"axis":{"title":"Siah2\u207b/\u207b"}}}},
{"transform":[{"filter":"datum.w!=null"}],"mark":{"type":"area","orient":"horizontal","color":"#e41a1c"},"encoding":{"y":{"field":"v","type":"quantitative"},"x":{"field":"w","type":"quantitative","stack":null,"scale":{"domain":[-1.2,1.2],"reverse":true},"axis":null}}},
{"transform":[{"filter":"datum.q1!=null"}],"mark":{"type":"rule","color":"#333"},"encoding":{"x":{"datum":0,"type":"quantitative","scale":{"domain":[-1.2,1.2]},"axis":null},"y":{"field":"lo","type":"quantitative"},"y2":{"field":"hi"}}},
{"transform":[{"filter":"datum.q1!=null"}],"mark":{"type":"bar","width":11,"fill":"white","stroke":"#333","strokeWidth":1,"opacity":1},"encoding":{"x":{"datum":0,"type":"quantitative","scale":{"domain":[-1.2,1.2]},"axis":null},"y":{"field":"q1","type":"quantitative"},"y2":{"field":"q3"}}},
{"transform":[{"filter":"datum.q1!=null"}],"mark":{"type":"rule","color":"#333","strokeWidth":2},"encoding":{"x":{"datum":-0.19,"type":"quantitative","scale":{"domain":[-1.2,1.2]},"axis":null},"x2":{"datum":0.19},"y":{"field":"md","type":"quantitative"}}}]}
]},
{"title":{"text":"Cluster 8","dx":24},"bounds":"flush","spacing":0,"hconcat":[
{"transform":[{"filter":"datum.c==8 && datum.g=='WT'"}],"width":68,"height":202,"resolve":{"scale":{"x":"independent"}},"layer":[
{"transform":[{"filter":"datum.w!=null"}],"mark":{"type":"area","orient":"horizontal","color":"#377eb8"},"encoding":{"y":{"field":"v","type":"quantitative","scale":{"domain":[-0.263,0.886],"nice":false},"axis":{"title":"Gene Set Module Score","values":[0,0.3,0.6],"labelExpr":"datum.value == 0 ? '0.0' : replace(format(datum.value, '.2~f'), '\u2212', '-')"}},"x":{"field":"w","type":"quantitative","stack":null,"scale":{"domain":[-1.2,1.2]},"axis":{"title":"WT"}}}},
{"transform":[{"filter":"datum.w!=null"}],"mark":{"type":"area","orient":"horizontal","color":"#377eb8"},"encoding":{"y":{"field":"v","type":"quantitative"},"x":{"field":"w","type":"quantitative","stack":null,"scale":{"domain":[-1.2,1.2],"reverse":true},"axis":null}}},
{"transform":[{"filter":"datum.q1!=null"}],"mark":{"type":"rule","color":"#333"},"encoding":{"x":{"datum":0,"type":"quantitative","scale":{"domain":[-1.2,1.2]},"axis":null},"y":{"field":"lo","type":"quantitative"},"y2":{"field":"hi"}}},
{"transform":[{"filter":"datum.q1!=null"}],"mark":{"type":"bar","width":11,"fill":"white","stroke":"#333","strokeWidth":1,"opacity":1},"encoding":{"x":{"datum":0,"type":"quantitative","scale":{"domain":[-1.2,1.2]},"axis":null},"y":{"field":"q1","type":"quantitative"},"y2":{"field":"q3"}}},
{"transform":[{"filter":"datum.q1!=null"}],"mark":{"type":"rule","color":"#333","strokeWidth":2},"encoding":{"x":{"datum":-0.19,"type":"quantitative","scale":{"domain":[-1.2,1.2]},"axis":null},"x2":{"datum":0.19},"y":{"field":"md","type":"quantitative"}}},
{"transform":[{"filter":"datum.p!=null"}],"mark":{"type":"text","align":"left","baseline":"middle","fontSize":14,"color":"#222"},"encoding":{"x":{"datum":-0.6,"type":"quantitative","scale":{"domain":[-1.2,1.2]},"axis":null},"y":{"datum":0.872,"type":"quantitative"},"text":{"field":"p"}}}]},
{"transform":[{"filter":"datum.c==8 && datum.g=='Siah2'"}],"width":68,"height":202,"resolve":{"scale":{"x":"independent"}},"layer":[
{"transform":[{"filter":"datum.w!=null"}],"mark":{"type":"area","orient":"horizontal","color":"#e41a1c"},"encoding":{"y":{"field":"v","type":"quantitative","scale":{"domain":[-0.263,0.886],"nice":false},"axis":null},"x":{"field":"w","type":"quantitative","stack":null,"scale":{"domain":[-1.2,1.2]},"axis":{"title":"Siah2\u207b/\u207b"}}}},
{"transform":[{"filter":"datum.w!=null"}],"mark":{"type":"area","orient":"horizontal","color":"#e41a1c"},"encoding":{"y":{"field":"v","type":"quantitative"},"x":{"field":"w","type":"quantitative","stack":null,"scale":{"domain":[-1.2,1.2],"reverse":true},"axis":null}}},
{"transform":[{"filter":"datum.q1!=null"}],"mark":{"type":"rule","color":"#333"},"encoding":{"x":{"datum":0,"type":"quantitative","scale":{"domain":[-1.2,1.2]},"axis":null},"y":{"field":"lo","type":"quantitative"},"y2":{"field":"hi"}}},
{"transform":[{"filter":"datum.q1!=null"}],"mark":{"type":"bar","width":11,"fill":"white","stroke":"#333","strokeWidth":1,"opacity":1},"encoding":{"x":{"datum":0,"type":"quantitative","scale":{"domain":[-1.2,1.2]},"axis":null},"y":{"field":"q1","type":"quantitative"},"y2":{"field":"q3"}}},
{"transform":[{"filter":"datum.q1!=null"}],"mark":{"type":"rule","color":"#333","strokeWidth":2},"encoding":{"x":{"datum":-0.19,"type":"quantitative","scale":{"domain":[-1.2,1.2]},"axis":null},"x2":{"datum":0.19},"y":{"field":"md","type":"quantitative"}}}]}
]},
{"title":{"text":"Cluster 10","dx":15},"bounds":"flush","spacing":0,"hconcat":[
{"transform":[{"filter":"datum.c==10 && datum.g=='WT'"}],"width":68,"height":202,"resolve":{"scale":{"x":"independent"}},"layer":[
{"transform":[{"filter":"datum.w!=null"}],"mark":{"type":"area","orient":"horizontal","color":"#377eb8"},"encoding":{"y":{"field":"v","type":"quantitative","scale":{"domain":[-0.2875,0.253],"nice":false},"axis":{"title":null,"values":[-0.2,-0.1,0,0.1,0.2],"labelExpr":"datum.value == 0 ? '0.0' : replace(format(datum.value, '.2~f'), '\u2212', '-')"}},"x":{"field":"w","type":"quantitative","stack":null,"scale":{"domain":[-1.2,1.2]},"axis":{"title":"WT"}}}},
{"transform":[{"filter":"datum.w!=null"}],"mark":{"type":"area","orient":"horizontal","color":"#377eb8"},"encoding":{"y":{"field":"v","type":"quantitative"},"x":{"field":"w","type":"quantitative","stack":null,"scale":{"domain":[-1.2,1.2],"reverse":true},"axis":null}}},
{"transform":[{"filter":"datum.q1!=null"}],"mark":{"type":"rule","color":"#333"},"encoding":{"x":{"datum":0,"type":"quantitative","scale":{"domain":[-1.2,1.2]},"axis":null},"y":{"field":"lo","type":"quantitative"},"y2":{"field":"hi"}}},
{"transform":[{"filter":"datum.q1!=null"}],"mark":{"type":"bar","width":11,"fill":"white","stroke":"#333","strokeWidth":1,"opacity":1},"encoding":{"x":{"datum":0,"type":"quantitative","scale":{"domain":[-1.2,1.2]},"axis":null},"y":{"field":"q1","type":"quantitative"},"y2":{"field":"q3"}}},
{"transform":[{"filter":"datum.q1!=null"}],"mark":{"type":"rule","color":"#333","strokeWidth":2},"encoding":{"x":{"datum":-0.19,"type":"quantitative","scale":{"domain":[-1.2,1.2]},"axis":null},"x2":{"datum":0.19},"y":{"field":"md","type":"quantitative"}}},
{"transform":[{"filter":"datum.p!=null"}],"mark":{"type":"text","align":"left","baseline":"middle","fontSize":14,"color":"#222"},"encoding":{"x":{"datum":0.41,"type":"quantitative","scale":{"domain":[-1.2,1.2]},"axis":null},"y":{"datum":0.196,"type":"quantitative"},"text":{"field":"p"}}}]},
{"transform":[{"filter":"datum.c==10 && datum.g=='Siah2'"}],"width":68,"height":202,"resolve":{"scale":{"x":"independent"}},"layer":[
{"transform":[{"filter":"datum.w!=null"}],"mark":{"type":"area","orient":"horizontal","color":"#e41a1c"},"encoding":{"y":{"field":"v","type":"quantitative","scale":{"domain":[-0.2875,0.253],"nice":false},"axis":null},"x":{"field":"w","type":"quantitative","stack":null,"scale":{"domain":[-1.2,1.2]},"axis":{"title":"Siah2\u207b/\u207b"}}}},
{"transform":[{"filter":"datum.w!=null"}],"mark":{"type":"area","orient":"horizontal","color":"#e41a1c"},"encoding":{"y":{"field":"v","type":"quantitative"},"x":{"field":"w","type":"quantitative","stack":null,"scale":{"domain":[-1.2,1.2],"reverse":true},"axis":null}}},
{"transform":[{"filter":"datum.q1!=null"}],"mark":{"type":"rule","color":"#333"},"encoding":{"x":{"datum":0,"type":"quantitative","scale":{"domain":[-1.2,1.2]},"axis":null},"y":{"field":"lo","type":"quantitative"},"y2":{"field":"hi"}}},
{"transform":[{"filter":"datum.q1!=null"}],"mark":{"type":"bar","width":11,"fill":"white","stroke":"#333","strokeWidth":1,"opacity":1},"encoding":{"x":{"datum":0,"type":"quantitative","scale":{"domain":[-1.2,1.2]},"axis":null},"y":{"field":"q1","type":"quantitative"},"y2":{"field":"q3"}}},
{"transform":[{"filter":"datum.q1!=null"}],"mark":{"type":"rule","color":"#333","strokeWidth":2},"encoding":{"x":{"datum":-0.19,"type":"quantitative","scale":{"domain":[-1.2,1.2]},"axis":null},"x2":{"datum":0.19},"y":{"field":"md","type":"quantitative"}}}]}
]},
{"title":{"text":"Cluster 11","dx":15},"bounds":"flush","spacing":0,"hconcat":[
{"transform":[{"filter":"datum.c==11 && datum.g=='WT'"}],"width":68,"height":202,"resolve":{"scale":{"x":"independent"}},"layer":[
{"transform":[{"filter":"datum.w!=null"}],"mark":{"type":"area","orient":"horizontal","color":"#377eb8"},"encoding":{"y":{"field":"v","type":"quantitative","scale":{"domain":[-0.293,0.426],"nice":false},"axis":{"title":null,"values":[-0.2,0,0.2,0.4],"labelExpr":"datum.value == 0 ? '0.0' : replace(format(datum.value, '.2~f'), '\u2212', '-')"}},"x":{"field":"w","type":"quantitative","stack":null,"scale":{"domain":[-1.2,1.2]},"axis":{"title":"WT"}}}},
{"transform":[{"filter":"datum.w!=null"}],"mark":{"type":"area","orient":"horizontal","color":"#377eb8"},"encoding":{"y":{"field":"v","type":"quantitative"},"x":{"field":"w","type":"quantitative","stack":null,"scale":{"domain":[-1.2,1.2],"reverse":true},"axis":null}}},
{"transform":[{"filter":"datum.q1!=null"}],"mark":{"type":"rule","color":"#333"},"encoding":{"x":{"datum":0,"type":"quantitative","scale":{"domain":[-1.2,1.2]},"axis":null},"y":{"field":"lo","type":"quantitative"},"y2":{"field":"hi"}}},
{"transform":[{"filter":"datum.q1!=null"}],"mark":{"type":"bar","width":11,"fill":"white","stroke":"#333","strokeWidth":1,"opacity":1},"encoding":{"x":{"datum":0,"type":"quantitative","scale":{"domain":[-1.2,1.2]},"axis":null},"y":{"field":"q1","type":"quantitative"},"y2":{"field":"q3"}}},
{"transform":[{"filter":"datum.q1!=null"}],"mark":{"type":"rule","color":"#333","strokeWidth":2},"encoding":{"x":{"datum":-0.19,"type":"quantitative","scale":{"domain":[-1.2,1.2]},"axis":null},"x2":{"datum":0.19},"y":{"field":"md","type":"quantitative"}}},
{"transform":[{"filter":"datum.p!=null"}],"mark":{"type":"text","align":"left","baseline":"middle","fontSize":14,"color":"#222"},"encoding":{"x":{"datum":0.83,"type":"quantitative","scale":{"domain":[-1.2,1.2]},"axis":null},"y":{"datum":0.336,"type":"quantitative"},"text":{"field":"p"}}}]},
{"transform":[{"filter":"datum.c==11 && datum.g=='Siah2'"}],"width":68,"height":202,"resolve":{"scale":{"x":"independent"}},"layer":[
{"transform":[{"filter":"datum.w!=null"}],"mark":{"type":"area","orient":"horizontal","color":"#e41a1c"},"encoding":{"y":{"field":"v","type":"quantitative","scale":{"domain":[-0.293,0.426],"nice":false},"axis":null},"x":{"field":"w","type":"quantitative","stack":null,"scale":{"domain":[-1.2,1.2]},"axis":{"title":"Siah2\u207b/\u207b"}}}},
{"transform":[{"filter":"datum.w!=null"}],"mark":{"type":"area","orient":"horizontal","color":"#e41a1c"},"encoding":{"y":{"field":"v","type":"quantitative"},"x":{"field":"w","type":"quantitative","stack":null,"scale":{"domain":[-1.2,1.2],"reverse":true},"axis":null}}},
{"transform":[{"filter":"datum.q1!=null"}],"mark":{"type":"rule","color":"#333"},"encoding":{"x":{"datum":0,"type":"quantitative","scale":{"domain":[-1.2,1.2]},"axis":null},"y":{"field":"lo","type":"quantitative"},"y2":{"field":"hi"}}},
{"transform":[{"filter":"datum.q1!=null"}],"mark":{"type":"bar","width":11,"fill":"white","stroke":"#333","strokeWidth":1,"opacity":1},"encoding":{"x":{"datum":0,"type":"quantitative","scale":{"domain":[-1.2,1.2]},"axis":null},"y":{"field":"q1","type":"quantitative"},"y2":{"field":"q3"}}},
{"transform":[{"filter":"datum.q1!=null"}],"mark":{"type":"rule","color":"#333","strokeWidth":2},"encoding":{"x":{"datum":-0.19,"type":"quantitative","scale":{"domain":[-1.2,1.2]},"axis":null},"x2":{"datum":0.19},"y":{"field":"md","type":"quantitative"}}}]}
]},
{"title":{"text":"Cluster 12","dx":18},"bounds":"flush","spacing":0,"hconcat":[
{"transform":[{"filter":"datum.c==12 && datum.g=='WT'"}],"width":68,"height":202,"resolve":{"scale":{"x":"independent"}},"layer":[
{"transform":[{"filter":"datum.w!=null"}],"mark":{"type":"area","orient":"horizontal","color":"#377eb8"},"encoding":{"y":{"field":"v","type":"quantitative","scale":{"domain":[-0.288,0.494],"nice":false},"axis":{"title":null,"values":[-0.25,0,0.25],"labelExpr":"datum.value == 0 ? '0.0' : replace(format(datum.value, '.2~f'), '\u2212', '-')"}},"x":{"field":"w","type":"quantitative","stack":null,"scale":{"domain":[-1.2,1.2]},"axis":{"title":"WT"}}}},
{"transform":[{"filter":"datum.w!=null"}],"mark":{"type":"area","orient":"horizontal","color":"#377eb8"},"encoding":{"y":{"field":"v","type":"quantitative"},"x":{"field":"w","type":"quantitative","stack":null,"scale":{"domain":[-1.2,1.2],"reverse":true},"axis":null}}},
{"transform":[{"filter":"datum.q1!=null"}],"mark":{"type":"rule","color":"#333"},"encoding":{"x":{"datum":0,"type":"quantitative","scale":{"domain":[-1.2,1.2]},"axis":null},"y":{"field":"lo","type":"quantitative"},"y2":{"field":"hi"}}},
{"transform":[{"filter":"datum.q1!=null"}],"mark":{"type":"bar","width":11,"fill":"white","stroke":"#333","strokeWidth":1,"opacity":1},"encoding":{"x":{"datum":0,"type":"quantitative","scale":{"domain":[-1.2,1.2]},"axis":null},"y":{"field":"q1","type":"quantitative"},"y2":{"field":"q3"}}},
{"transform":[{"filter":"datum.q1!=null"}],"mark":{"type":"rule","color":"#333","strokeWidth":2},"encoding":{"x":{"datum":-0.19,"type":"quantitative","scale":{"domain":[-1.2,1.2]},"axis":null},"x2":{"datum":0.19},"y":{"field":"md","type":"quantitative"}}},
{"transform":[{"filter":"datum.p!=null"}],"mark":{"type":"text","align":"left","baseline":"middle","fontSize":14,"color":"#222"},"encoding":{"x":{"datum":0.66,"type":"quantitative","scale":{"domain":[-1.2,1.2]},"axis":null},"y":{"datum":0.461,"type":"quantitative"},"text":{"field":"p"}}}]},
{"transform":[{"filter":"datum.c==12 && datum.g=='Siah2'"}],"width":68,"height":202,"resolve":{"scale":{"x":"independent"}},"layer":[
{"transform":[{"filter":"datum.w!=null"}],"mark":{"type":"area","orient":"horizontal","color":"#e41a1c"},"encoding":{"y":{"field":"v","type":"quantitative","scale":{"domain":[-0.288,0.494],"nice":false},"axis":null},"x":{"field":"w","type":"quantitative","stack":null,"scale":{"domain":[-1.2,1.2]},"axis":{"title":"Siah2\u207b/\u207b"}}}},
{"transform":[{"filter":"datum.w!=null"}],"mark":{"type":"area","orient":"horizontal","color":"#e41a1c"},"encoding":{"y":{"field":"v","type":"quantitative"},"x":{"field":"w","type":"quantitative","stack":null,"scale":{"domain":[-1.2,1.2],"reverse":true},"axis":null}}},
{"transform":[{"filter":"datum.q1!=null"}],"mark":{"type":"rule","color":"#333"},"encoding":{"x":{"datum":0,"type":"quantitative","scale":{"domain":[-1.2,1.2]},"axis":null},"y":{"field":"lo","type":"quantitative"},"y2":{"field":"hi"}}},
{"transform":[{"filter":"datum.q1!=null"}],"mark":{"type":"bar","width":11,"fill":"white","stroke":"#333","strokeWidth":1,"opacity":1},"encoding":{"x":{"datum":0,"type":"quantitative","scale":{"domain":[-1.2,1.2]},"axis":null},"y":{"field":"q1","type":"quantitative"},"y2":{"field":"q3"}}},
{"transform":[{"filter":"datum.q1!=null"}],"mark":{"type":"rule","color":"#333","strokeWidth":2},"encoding":{"x":{"datum":-0.19,"type":"quantitative","scale":{"domain":[-1.2,1.2]},"axis":null},"x2":{"datum":0.19},"y":{"field":"md","type":"quantitative"}}}]}
]},
{"title":{"text":"Cluster 14","dx":18},"bounds":"flush","spacing":0,"hconcat":[
{"transform":[{"filter":"datum.c==14 && datum.g=='WT'"}],"width":68,"height":202,"resolve":{"scale":{"x":"independent"}},"layer":[
{"transform":[{"filter":"datum.w!=null"}],"mark":{"type":"area","orient":"horizontal","color":"#377eb8"},"encoding":{"y":{"field":"v","type":"quantitative","scale":{"domain":[-0.267,0.672],"nice":false},"axis":{"title":null,"values":[-0.25,0,0.25,0.5],"labelExpr":"datum.value == 0 ? '0.0' : replace(format(datum.value, '.2~f'), '\u2212', '-')"}},"x":{"field":"w","type":"quantitative","stack":null,"scale":{"domain":[-1.2,1.2]},"axis":{"title":"WT"}}}},
{"transform":[{"filter":"datum.w!=null"}],"mark":{"type":"area","orient":"horizontal","color":"#377eb8"},"encoding":{"y":{"field":"v","type":"quantitative"},"x":{"field":"w","type":"quantitative","stack":null,"scale":{"domain":[-1.2,1.2],"reverse":true},"axis":null}}},
{"transform":[{"filter":"datum.q1!=null"}],"mark":{"type":"rule","color":"#333"},"encoding":{"x":{"datum":0,"type":"quantitative","scale":{"domain":[-1.2,1.2]},"axis":null},"y":{"field":"lo","type":"quantitative"},"y2":{"field":"hi"}}},
{"transform":[{"filter":"datum.q1!=null"}],"mark":{"type":"bar","width":11,"fill":"white","stroke":"#333","strokeWidth":1,"opacity":1},"encoding":{"x":{"datum":0,"type":"quantitative","scale":{"domain":[-1.2,1.2]},"axis":null},"y":{"field":"q1","type":"quantitative"},"y2":{"field":"q3"}}},
{"transform":[{"filter":"datum.q1!=null"}],"mark":{"type":"rule","color":"#333","strokeWidth":2},"encoding":{"x":{"datum":-0.19,"type":"quantitative","scale":{"domain":[-1.2,1.2]},"axis":null},"x2":{"datum":0.19},"y":{"field":"md","type":"quantitative"}}},
{"transform":[{"filter":"datum.p!=null"}],"mark":{"type":"text","align":"left","baseline":"middle","fontSize":14,"color":"#222"},"encoding":{"x":{"datum":0.24,"type":"quantitative","scale":{"domain":[-1.2,1.2]},"axis":null},"y":{"datum":0.601,"type":"quantitative"},"text":{"field":"p"}}}]},
{"transform":[{"filter":"datum.c==14 && datum.g=='Siah2'"}],"width":68,"height":202,"resolve":{"scale":{"x":"independent"}},"layer":[
{"transform":[{"filter":"datum.w!=null"}],"mark":{"type":"area","orient":"horizontal","color":"#e41a1c"},"encoding":{"y":{"field":"v","type":"quantitative","scale":{"domain":[-0.267,0.672],"nice":false},"axis":null},"x":{"field":"w","type":"quantitative","stack":null,"scale":{"domain":[-1.2,1.2]},"axis":{"title":"Siah2\u207b/\u207b"}}}},
{"transform":[{"filter":"datum.w!=null"}],"mark":{"type":"area","orient":"horizontal","color":"#e41a1c"},"encoding":{"y":{"field":"v","type":"quantitative"},"x":{"field":"w","type":"quantitative","stack":null,"scale":{"domain":[-1.2,1.2],"reverse":true},"axis":null}}},
{"transform":[{"filter":"datum.q1!=null"}],"mark":{"type":"rule","color":"#333"},"encoding":{"x":{"datum":0,"type":"quantitative","scale":{"domain":[-1.2,1.2]},"axis":null},"y":{"field":"lo","type":"quantitative"},"y2":{"field":"hi"}}},
{"transform":[{"filter":"datum.q1!=null"}],"mark":{"type":"bar","width":11,"fill":"white","stroke":"#333","strokeWidth":1,"opacity":1},"encoding":{"x":{"datum":0,"type":"quantitative","scale":{"domain":[-1.2,1.2]},"axis":null},"y":{"field":"q1","type":"quantitative"},"y2":{"field":"q3"}}},
{"transform":[{"filter":"datum.q1!=null"}],"mark":{"type":"rule","color":"#333","strokeWidth":2},"encoding":{"x":{"datum":-0.19,"type":"quantitative","scale":{"domain":[-1.2,1.2]},"axis":null},"x2":{"datum":0.19},"y":{"field":"md","type":"quantitative"}}}]}
]},
{"title":{"text":"Cluster 15","dx":29},"bounds":"flush","spacing":0,"hconcat":[
{"transform":[{"filter":"datum.c==15 && datum.g=='WT'"}],"width":68,"height":202,"resolve":{"scale":{"x":"independent"}},"layer":[
{"transform":[{"filter":"datum.w!=null"}],"mark":{"type":"area","orient":"horizontal","color":"#377eb8"},"encoding":{"y":{"field":"v","type":"quantitative","scale":{"domain":[-0.27,0.529],"nice":false},"axis":{"title":"Gene Set Module Score","values":[-0.25,0,0.25,0.5],"labelExpr":"datum.value == 0 ? '0.0' : replace(format(datum.value, '.2~f'), '\u2212', '-')"}},"x":{"field":"w","type":"quantitative","stack":null,"scale":{"domain":[-1.2,1.2]},"axis":{"title":"WT"}}}},
{"transform":[{"filter":"datum.w!=null"}],"mark":{"type":"area","orient":"horizontal","color":"#377eb8"},"encoding":{"y":{"field":"v","type":"quantitative"},"x":{"field":"w","type":"quantitative","stack":null,"scale":{"domain":[-1.2,1.2],"reverse":true},"axis":null}}},
{"transform":[{"filter":"datum.q1!=null"}],"mark":{"type":"rule","color":"#333"},"encoding":{"x":{"datum":0,"type":"quantitative","scale":{"domain":[-1.2,1.2]},"axis":null},"y":{"field":"lo","type":"quantitative"},"y2":{"field":"hi"}}},
{"transform":[{"filter":"datum.q1!=null"}],"mark":{"type":"bar","width":11,"fill":"white","stroke":"#333","strokeWidth":1,"opacity":1},"encoding":{"x":{"datum":0,"type":"quantitative","scale":{"domain":[-1.2,1.2]},"axis":null},"y":{"field":"q1","type":"quantitative"},"y2":{"field":"q3"}}},
{"transform":[{"filter":"datum.q1!=null"}],"mark":{"type":"rule","color":"#333","strokeWidth":2},"encoding":{"x":{"datum":-0.19,"type":"quantitative","scale":{"domain":[-1.2,1.2]},"axis":null},"x2":{"datum":0.19},"y":{"field":"md","type":"quantitative"}}},
{"transform":[{"filter":"datum.p!=null"}],"mark":{"type":"text","align":"left","baseline":"middle","fontSize":14,"color":"#222"},"encoding":{"x":{"datum":0.52,"type":"quantitative","scale":{"domain":[-1.2,1.2]},"axis":null},"y":{"datum":0.471,"type":"quantitative"},"text":{"field":"p"}}}]},
{"transform":[{"filter":"datum.c==15 && datum.g=='Siah2'"}],"width":68,"height":202,"resolve":{"scale":{"x":"independent"}},"layer":[
{"transform":[{"filter":"datum.w!=null"}],"mark":{"type":"area","orient":"horizontal","color":"#e41a1c"},"encoding":{"y":{"field":"v","type":"quantitative","scale":{"domain":[-0.27,0.529],"nice":false},"axis":null},"x":{"field":"w","type":"quantitative","stack":null,"scale":{"domain":[-1.2,1.2]},"axis":{"title":"Siah2\u207b/\u207b"}}}},
{"transform":[{"filter":"datum.w!=null"}],"mark":{"type":"area","orient":"horizontal","color":"#e41a1c"},"encoding":{"y":{"field":"v","type":"quantitative"},"x":{"field":"w","type":"quantitative","stack":null,"scale":{"domain":[-1.2,1.2],"reverse":true},"axis":null}}},
{"transform":[{"filter":"datum.q1!=null"}],"mark":{"type":"rule","color":"#333"},"encoding":{"x":{"datum":0,"type":"quantitative","scale":{"domain":[-1.2,1.2]},"axis":null},"y":{"field":"lo","type":"quantitative"},"y2":{"field":"hi"}}},
{"transform":[{"filter":"datum.q1!=null"}],"mark":{"type":"bar","width":11,"fill":"white","stroke":"#333","strokeWidth":1,"opacity":1},"encoding":{"x":{"datum":0,"type":"quantitative","scale":{"domain":[-1.2,1.2]},"axis":null},"y":{"field":"q1","type":"quantitative"},"y2":{"field":"q3"}}},
{"transform":[{"filter":"datum.q1!=null"}],"mark":{"type":"rule","color":"#333","strokeWidth":2},"encoding":{"x":{"datum":-0.19,"type":"quantitative","scale":{"domain":[-1.2,1.2]},"axis":null},"x2":{"datum":0.19},"y":{"field":"md","type":"quantitative"}}}]}
]},
{"title":{"text":"Cluster 16","dx":15},"bounds":"flush","spacing":0,"hconcat":[
{"transform":[{"filter":"datum.c==16 && datum.g=='WT'"}],"width":68,"height":202,"resolve":{"scale":{"x":"independent"}},"layer":[
{"transform":[{"filter":"datum.w!=null"}],"mark":{"type":"area","orient":"horizontal","color":"#377eb8"},"encoding":{"y":{"field":"v","type":"quantitative","scale":{"domain":[-0.268,0.41],"nice":false},"axis":{"title":null,"values":[-0.2,0,0.2,0.4],"labelExpr":"datum.value == 0 ? '0.0' : replace(format(datum.value, '.2~f'), '\u2212', '-')"}},"x":{"field":"w","type":"quantitative","stack":null,"scale":{"domain":[-1.2,1.2]},"axis":{"title":"WT"}}}},
{"transform":[{"filter":"datum.w!=null"}],"mark":{"type":"area","orient":"horizontal","color":"#377eb8"},"encoding":{"y":{"field":"v","type":"quantitative"},"x":{"field":"w","type":"quantitative","stack":null,"scale":{"domain":[-1.2,1.2],"reverse":true},"axis":null}}},
{"transform":[{"filter":"datum.q1!=null"}],"mark":{"type":"rule","color":"#333"},"encoding":{"x":{"datum":0,"type":"quantitative","scale":{"domain":[-1.2,1.2]},"axis":null},"y":{"field":"lo","type":"quantitative"},"y2":{"field":"hi"}}},
{"transform":[{"filter":"datum.q1!=null"}],"mark":{"type":"bar","width":11,"fill":"white","stroke":"#333","strokeWidth":1,"opacity":1},"encoding":{"x":{"datum":0,"type":"quantitative","scale":{"domain":[-1.2,1.2]},"axis":null},"y":{"field":"q1","type":"quantitative"},"y2":{"field":"q3"}}},
{"transform":[{"filter":"datum.q1!=null"}],"mark":{"type":"rule","color":"#333","strokeWidth":2},"encoding":{"x":{"datum":-0.19,"type":"quantitative","scale":{"domain":[-1.2,1.2]},"axis":null},"x2":{"datum":0.19},"y":{"field":"md","type":"quantitative"}}},
{"transform":[{"filter":"datum.p!=null"}],"mark":{"type":"text","align":"left","baseline":"middle","fontSize":14,"color":"#222"},"encoding":{"x":{"datum":0.87,"type":"quantitative","scale":{"domain":[-1.2,1.2]},"axis":null},"y":{"datum":0.358,"type":"quantitative"},"text":{"field":"p"}}}]},
{"transform":[{"filter":"datum.c==16 && datum.g=='Siah2'"}],"width":68,"height":202,"resolve":{"scale":{"x":"independent"}},"layer":[
{"transform":[{"filter":"datum.w!=null"}],"mark":{"type":"area","orient":"horizontal","color":"#e41a1c"},"encoding":{"y":{"field":"v","type":"quantitative","scale":{"domain":[-0.268,0.41],"nice":false},"axis":null},"x":{"field":"w","type":"quantitative","stack":null,"scale":{"domain":[-1.2,1.2]},"axis":{"title":"Siah2\u207b/\u207b"}}}},
{"transform":[{"filter":"datum.w!=null"}],"mark":{"type":"area","orient":"horizontal","color":"#e41a1c"},"encoding":{"y":{"field":"v","type":"quantitative"},"x":{"field":"w","type":"quantitative","stack":null,"scale":{"domain":[-1.2,1.2],"reverse":true},"axis":null}}},
{"transform":[{"filter":"datum.q1!=null"}],"mark":{"type":"rule","color":"#333"},"encoding":{"x":{"datum":0,"type":"quantitative","scale":{"domain":[-1.2,1.2]},"axis":null},"y":{"field":"lo","type":"quantitative"},"y2":{"field":"hi"}}},
{"transform":[{"filter":"datum.q1!=null"}],"mark":{"type":"bar","width":11,"fill":"white","stroke":"#333","strokeWidth":1,"opacity":1},"encoding":{"x":{"datum":0,"type":"quantitative","scale":{"domain":[-1.2,1.2]},"axis":null},"y":{"field":"q1","type":"quantitative"},"y2":{"field":"q3"}}},
{"transform":[{"filter":"datum.q1!=null"}],"mark":{"type":"rule","color":"#333","strokeWidth":2},"encoding":{"x":{"datum":-0.19,"type":"quantitative","scale":{"domain":[-1.2,1.2]},"axis":null},"x2":{"datum":0.19},"y":{"field":"md","type":"quantitative"}}}]}
]},
{"title":{"text":"Cluster 17","dx":13},"bounds":"flush","spacing":0,"hconcat":[
{"transform":[{"filter":"datum.c==17 && datum.g=='WT'"}],"width":68,"height":202,"resolve":{"scale":{"x":"independent"}},"layer":[
{"transform":[{"filter":"datum.w!=null"}],"mark":{"type":"area","orient":"horizontal","color":"#377eb8"},"encoding":{"y":{"field":"v","type":"quantitative","scale":{"domain":[-0.07,0.724],"nice":false},"axis":{"title":null,"values":[0,0.2,0.4,0.6],"labelExpr":"datum.value == 0 ? '0.0' : replace(format(datum.value, '.2~f'), '\u2212', '-')"}},"x":{"field":"w","type":"quantitative","stack":null,"scale":{"domain":[-1.2,1.2]},"axis":{"title":"WT"}}}},
{"transform":[{"filter":"datum.w!=null"}],"mark":{"type":"area","orient":"horizontal","color":"#377eb8"},"encoding":{"y":{"field":"v","type":"quantitative"},"x":{"field":"w","type":"quantitative","stack":null,"scale":{"domain":[-1.2,1.2],"reverse":true},"axis":null}}},
{"transform":[{"filter":"datum.q1!=null"}],"mark":{"type":"rule","color":"#333"},"encoding":{"x":{"datum":0,"type":"quantitative","scale":{"domain":[-1.2,1.2]},"axis":null},"y":{"field":"lo","type":"quantitative"},"y2":{"field":"hi"}}},
{"transform":[{"filter":"datum.q1!=null"}],"mark":{"type":"bar","width":11,"fill":"white","stroke":"#333","strokeWidth":1,"opacity":1},"encoding":{"x":{"datum":0,"type":"quantitative","scale":{"domain":[-1.2,1.2]},"axis":null},"y":{"field":"q1","type":"quantitative"},"y2":{"field":"q3"}}},
{"transform":[{"filter":"datum.q1!=null"}],"mark":{"type":"rule","color":"#333","strokeWidth":2},"encoding":{"x":{"datum":-0.19,"type":"quantitative","scale":{"domain":[-1.2,1.2]},"axis":null},"x2":{"datum":0.19},"y":{"field":"md","type":"quantitative"}}},
{"transform":[{"filter":"datum.p!=null"}],"mark":{"type":"text","align":"left","baseline":"middle","fontSize":14,"color":"#222"},"encoding":{"x":{"datum":1.32,"type":"quantitative","scale":{"domain":[-1.2,1.2]},"axis":null},"y":{"datum":0.689,"type":"quantitative"},"text":{"field":"p"}}}]},
{"transform":[{"filter":"datum.c==17 && datum.g=='Siah2'"}],"width":68,"height":202,"resolve":{"scale":{"x":"independent"}},"layer":[
{"transform":[{"filter":"datum.w!=null"}],"mark":{"type":"area","orient":"horizontal","color":"#e41a1c"},"encoding":{"y":{"field":"v","type":"quantitative","scale":{"domain":[-0.07,0.724],"nice":false},"axis":null},"x":{"field":"w","type":"quantitative","stack":null,"scale":{"domain":[-1.2,1.2]},"axis":{"title":"Siah2\u207b/\u207b"}}}},
{"transform":[{"filter":"datum.w!=null"}],"mark":{"type":"area","orient":"horizontal","color":"#e41a1c"},"encoding":{"y":{"field":"v","type":"quantitative"},"x":{"field":"w","type":"quantitative","stack":null,"scale":{"domain":[-1.2,1.2],"reverse":true},"axis":null}}},
{"transform":[{"filter":"datum.q1!=null"}],"mark":{"type":"rule","color":"#333"},"encoding":{"x":{"datum":0,"type":"quantitative","scale":{"domain":[-1.2,1.2]},"axis":null},"y":{"field":"lo","type":"quantitative"},"y2":{"field":"hi"}}},
{"transform":[{"filter":"datum.q1!=null"}],"mark":{"type":"bar","width":11,"fill":"white","stroke":"#333","strokeWidth":1,"opacity":1},"encoding":{"x":{"datum":0,"type":"quantitative","scale":{"domain":[-1.2,1.2]},"axis":null},"y":{"field":"q1","type":"quantitative"},"y2":{"field":"q3"}}},
{"transform":[{"filter":"datum.q1!=null"}],"mark":{"type":"rule","color":"#333","strokeWidth":2},"encoding":{"x":{"datum":-0.19,"type":"quantitative","scale":{"domain":[-1.2,1.2]},"axis":null},"x2":{"datum":0.19},"y":{"field":"md","type":"quantitative"}}}]}
]},
{"title":{"text":"Cluster 18","dx":15},"bounds":"flush","spacing":0,"hconcat":[
{"transform":[{"filter":"datum.c==18 && datum.g=='WT'"}],"width":68,"height":202,"resolve":{"scale":{"x":"independent"}},"layer":[
{"transform":[{"filter":"datum.w!=null"}],"mark":{"type":"area","orient":"horizontal","color":"#377eb8"},"encoding":{"y":{"field":"v","type":"quantitative","scale":{"domain":[-0.287,0.393],"nice":false},"axis":{"title":null,"values":[-0.2,0,0.2],"labelExpr":"datum.value == 0 ? '0.0' : replace(format(datum.value, '.2~f'), '\u2212', '-')"}},"x":{"field":"w","type":"quantitative","stack":null,"scale":{"domain":[-1.2,1.2]},"axis":{"title":"WT"}}}},
{"transform":[{"filter":"datum.w!=null"}],"mark":{"type":"area","orient":"horizontal","color":"#377eb8"},"encoding":{"y":{"field":"v","type":"quantitative"},"x":{"field":"w","type":"quantitative","stack":null,"scale":{"domain":[-1.2,1.2],"reverse":true},"axis":null}}},
{"transform":[{"filter":"datum.q1!=null"}],"mark":{"type":"rule","color":"#333"},"encoding":{"x":{"datum":0,"type":"quantitative","scale":{"domain":[-1.2,1.2]},"axis":null},"y":{"field":"lo","type":"quantitative"},"y2":{"field":"hi"}}},
{"transform":[{"filter":"datum.q1!=null"}],"mark":{"type":"bar","width":11,"fill":"white","stroke":"#333","strokeWidth":1,"opacity":1},"encoding":{"x":{"datum":0,"type":"quantitative","scale":{"domain":[-1.2,1.2]},"axis":null},"y":{"field":"q1","type":"quantitative"},"y2":{"field":"q3"}}},
{"transform":[{"filter":"datum.q1!=null"}],"mark":{"type":"rule","color":"#333","strokeWidth":2},"encoding":{"x":{"datum":-0.19,"type":"quantitative","scale":{"domain":[-1.2,1.2]},"axis":null},"x2":{"datum":0.19},"y":{"field":"md","type":"quantitative"}}},
{"transform":[{"filter":"datum.p!=null"}],"mark":{"type":"text","align":"left","baseline":"middle","fontSize":14,"color":"#222"},"encoding":{"x":{"datum":0.55,"type":"quantitative","scale":{"domain":[-1.2,1.2]},"axis":null},"y":{"datum":0.343,"type":"quantitative"},"text":{"field":"p"}}}]},
{"transform":[{"filter":"datum.c==18 && datum.g=='Siah2'"}],"width":68,"height":202,"resolve":{"scale":{"x":"independent"}},"layer":[
{"transform":[{"filter":"datum.w!=null"}],"mark":{"type":"area","orient":"horizontal","color":"#e41a1c"},"encoding":{"y":{"field":"v","type":"quantitative","scale":{"domain":[-0.287,0.393],"nice":false},"axis":null},"x":{"field":"w","type":"quantitative","stack":null,"scale":{"domain":[-1.2,1.2]},"axis":{"title":"Siah2\u207b/\u207b"}}}},
{"transform":[{"filter":"datum.w!=null"}],"mark":{"type":"area","orient":"horizontal","color":"#e41a1c"},"encoding":{"y":{"field":"v","type":"quantitative"},"x":{"field":"w","type":"quantitative","stack":null,"scale":{"domain":[-1.2,1.2],"reverse":true},"axis":null}}},
{"transform":[{"filter":"datum.q1!=null"}],"mark":{"type":"rule","color":"#333"},"encoding":{"x":{"datum":0,"type":"quantitative","scale":{"domain":[-1.2,1.2]},"axis":null},"y":{"field":"lo","type":"quantitative"},"y2":{"field":"hi"}}},
{"transform":[{"filter":"datum.q1!=null"}],"mark":{"type":"bar","width":11,"fill":"white","stroke":"#333","strokeWidth":1,"opacity":1},"encoding":{"x":{"datum":0,"type":"quantitative","scale":{"domain":[-1.2,1.2]},"axis":null},"y":{"field":"q1","type":"quantitative"},"y2":{"field":"q3"}}},
{"transform":[{"filter":"datum.q1!=null"}],"mark":{"type":"rule","color":"#333","strokeWidth":2},"encoding":{"x":{"datum":-0.19,"type":"quantitative","scale":{"domain":[-1.2,1.2]},"axis":null},"x2":{"datum":0.19},"y":{"field":"md","type":"quantitative"}}}]}
]},
{"title":{"text":"Cluster 19","dx":15},"bounds":"flush","spacing":0,"hconcat":[
{"transform":[{"filter":"datum.c==19 && datum.g=='WT'"}],"width":68,"height":202,"resolve":{"scale":{"x":"independent"}},"layer":[
{"transform":[{"filter":"datum.w!=null"}],"mark":{"type":"area","orient":"horizontal","color":"#377eb8"},"encoding":{"y":{"field":"v","type":"quantitative","scale":{"domain":[-0.242,0.438],"nice":false},"axis":{"title":null,"values":[-0.2,0,0.2,0.4],"labelExpr":"datum.value == 0 ? '0.0' : replace(format(datum.value, '.2~f'), '\u2212', '-')"}},"x":{"field":"w","type":"quantitative","stack":null,"scale":{"domain":[-1.2,1.2]},"axis":{"title":"WT"}}}},
{"transform":[{"filter":"datum.w!=null"}],"mark":{"type":"area","orient":"horizontal","color":"#377eb8"},"encoding":{"y":{"field":"v","type":"quantitative"},"x":{"field":"w","type":"quantitative","stack":null,"scale":{"domain":[-1.2,1.2],"reverse":true},"axis":null}}},
{"transform":[{"filter":"datum.q1!=null"}],"mark":{"type":"rule","color":"#333"},"encoding":{"x":{"datum":0,"type":"quantitative","scale":{"domain":[-1.2,1.2]},"axis":null},"y":{"field":"lo","type":"quantitative"},"y2":{"field":"hi"}}},
{"transform":[{"filter":"datum.q1!=null"}],"mark":{"type":"bar","width":11,"fill":"white","stroke":"#333","strokeWidth":1,"opacity":1},"encoding":{"x":{"datum":0,"type":"quantitative","scale":{"domain":[-1.2,1.2]},"axis":null},"y":{"field":"q1","type":"quantitative"},"y2":{"field":"q3"}}},
{"transform":[{"filter":"datum.q1!=null"}],"mark":{"type":"rule","color":"#333","strokeWidth":2},"encoding":{"x":{"datum":-0.19,"type":"quantitative","scale":{"domain":[-1.2,1.2]},"axis":null},"x2":{"datum":0.19},"y":{"field":"md","type":"quantitative"}}},
{"transform":[{"filter":"datum.p!=null"}],"mark":{"type":"text","align":"left","baseline":"middle","fontSize":14,"color":"#222"},"encoding":{"x":{"datum":0.73,"type":"quantitative","scale":{"domain":[-1.2,1.2]},"axis":null},"y":{"datum":0.388,"type":"quantitative"},"text":{"field":"p"}}}]},
{"transform":[{"filter":"datum.c==19 && datum.g=='Siah2'"}],"width":68,"height":202,"resolve":{"scale":{"x":"independent"}},"layer":[
{"transform":[{"filter":"datum.w!=null"}],"mark":{"type":"area","orient":"horizontal","color":"#e41a1c"},"encoding":{"y":{"field":"v","type":"quantitative","scale":{"domain":[-0.242,0.438],"nice":false},"axis":null},"x":{"field":"w","type":"quantitative","stack":null,"scale":{"domain":[-1.2,1.2]},"axis":{"title":"Siah2\u207b/\u207b"}}}},
{"transform":[{"filter":"datum.w!=null"}],"mark":{"type":"area","orient":"horizontal","color":"#e41a1c"},"encoding":{"y":{"field":"v","type":"quantitative"},"x":{"field":"w","type":"quantitative","stack":null,"scale":{"domain":[-1.2,1.2],"reverse":true},"axis":null}}},
{"transform":[{"filter":"datum.q1!=null"}],"mark":{"type":"rule","color":"#333"},"encoding":{"x":{"datum":0,"type":"quantitative","scale":{"domain":[-1.2,1.2]},"axis":null},"y":{"field":"lo","type":"quantitative"},"y2":{"field":"hi"}}},
{"transform":[{"filter":"datum.q1!=null"}],"mark":{"type":"bar","width":11,"fill":"white","stroke":"#333","strokeWidth":1,"opacity":1},"encoding":{"x":{"datum":0,"type":"quantitative","scale":{"domain":[-1.2,1.2]},"axis":null},"y":{"field":"q1","type":"quantitative"},"y2":{"field":"q3"}}},
{"transform":[{"filter":"datum.q1!=null"}],"mark":{"type":"rule","color":"#333","strokeWidth":2},"encoding":{"x":{"datum":-0.19,"type":"quantitative","scale":{"domain":[-1.2,1.2]},"axis":null},"x2":{"datum":0.19},"y":{"field":"md","type":"quantitative"}}}]}
]}
]}],
"config":{
"view":{"stroke":null},
"font":"Open Sans",
"axis":{"labelFont":"Open Sans","labelFontSize":13,"labelColor":"#222","titleFont":"Open Sans","titleFontSize":16,"titleFontWeight":"normal","titleColor":"#222","domainColor":"#888","tickColor":"#888","tickSize":4,"grid":false,"labelPadding":2,"titlePadding":6},
"axisX":{"labels":false,"ticks":false,"titlePadding":1},
"title":{"orient":"bottom","anchor":"middle","frame":"bounds","fontSize":16,"fontWeight":"normal","font":"Open Sans","color":"#222","offset":5}
}
}
